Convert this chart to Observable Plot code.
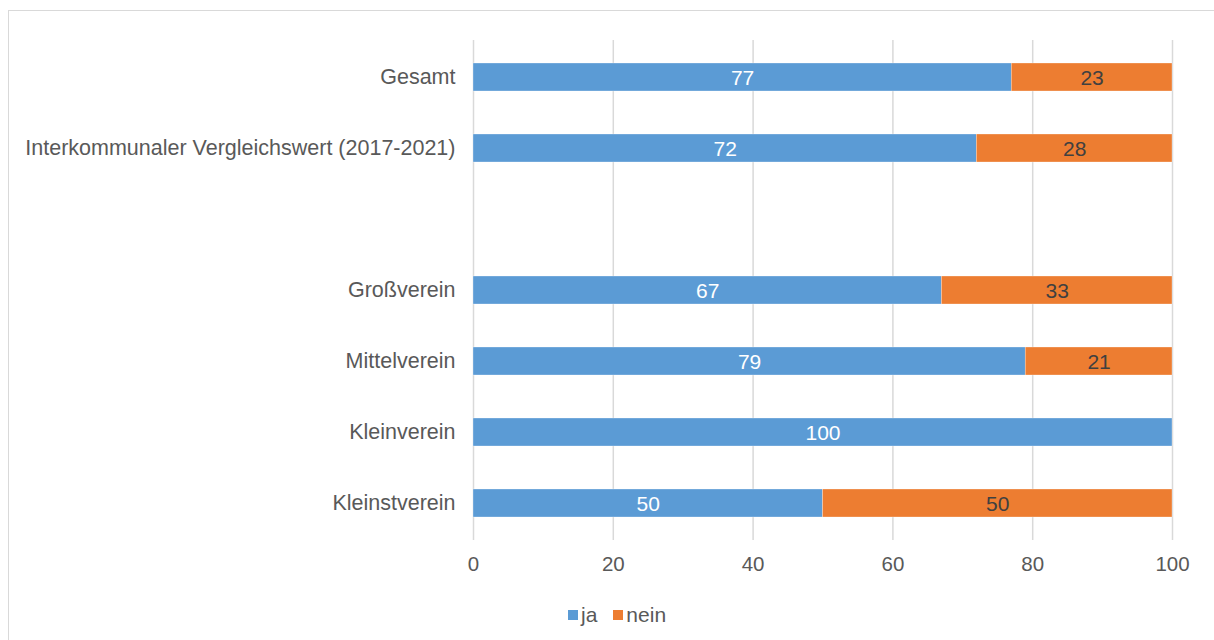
<!DOCTYPE html>
<html>
<head>
<meta charset="utf-8">
<script src="https://cdn.jsdelivr.net/npm/d3@7"></script>
<script src="https://cdn.jsdelivr.net/npm/@observablehq/plot@0.6"></script>
<style>
  html, body { margin: 0; padding: 0; background: #fff; width: 1214px; height: 640px; overflow: hidden; }
  #frame { position: absolute; left: 8px; top: 10px; width: 1220px; height: 640px; border: 1px solid #d9d9d9; box-sizing: border-box; }
  #chart { position: absolute; left: 0; top: 0; }
  #legend { position: absolute; top: 603px; left: 568px; font-family: "Liberation Sans", Arial, sans-serif; font-size: 21px; line-height: 24px; color: #595959; display: flex; align-items: center; }
  #legend .sw { display: inline-block; width: 10px; height: 10px; margin-right: 3px; }
  #legend .item { display: flex; align-items: center; margin-right: 16px; }
</style>
</head>
<body>
<div id="frame"></div>
<div id="chart"></div>
<div id="legend"></div>
<script>
const categories = ["Gesamt", "Interkommunaler Vergleichswert (2017-2021)", " ", "Großverein", "Mittelverein", "Kleinverein", "Kleinstverein"];
const barCategories = ["Gesamt", "Interkommunaler Vergleichswert (2017-2021)", "Großverein", "Mittelverein", "Kleinverein", "Kleinstverein"];
const jaValues = [77, 72, 67, 79, 100, 50];
const neinValues = [23, 28, 33, 21, 0, 50];
const seriesNames = ["ja", "nein"];
const seriesColors = ["#5B9BD5", "#ED7D31"];
const labelColors = ["#ffffff", "#404040"];
const xTicks = [0, 20, 40, 60, 80, 100];

const data = [];
barCategories.forEach((c, i) => {
  data.push({category: c, series: "ja", value: jaValues[i]});
  data.push({category: c, series: "nein", value: neinValues[i]});
});

const font = '"Liberation Sans", Arial, sans-serif';

const chart = Plot.plot({
  width: 1214,
  height: 585,
  marginLeft: 473,
  marginRight: 42,
  marginTop: 40,
  marginBottom: 45,
  style: {fontFamily: font, fontSize: "20px", color: "#595959", background: "transparent"},
  x: {domain: [0, 100], ticks: xTicks, label: null},
  y: {domain: categories, paddingInner: 0.6, paddingOuter: 0.3, label: null},
  color: {domain: seriesNames, range: seriesColors},
  marks: [
    Plot.ruleX(xTicks, {stroke: "#d9d9d9", strokeWidth: 1.5}),
    Plot.barX(data, Plot.stackX({
      y: "category", x: "value", fill: "series", order: seriesNames,
      stroke: "#ffffff", strokeWidth: 0.5, strokeOpacity: 0.6
    })),
    Plot.text(data.filter(d => d.value > 0), Plot.stackX({
      y: "category", x: "value", z: "series", order: seriesNames,
      text: d => String(d.value),
      fill: d => labelColors[seriesNames.indexOf(d.series)],
      fontSize: 21, dy: 1
    })),
    Plot.axisX({ticks: xTicks, tickSize: 0, tickPadding: 16, label: null, fontSize: 20.5, fill: "#595959"}),
    Plot.axisY({tickSize: 0, tickPadding: 18, label: null, fontSize: 21.5, fill: "#595959", tickFormat: d => d})
  ]
});
document.getElementById("chart").appendChild(chart);

const legend = document.getElementById("legend");
seriesNames.forEach((s, i) => {
  const item = document.createElement("span");
  item.className = "item";
  const sw = document.createElement("span");
  sw.className = "sw";
  sw.style.background = seriesColors[i];
  item.appendChild(sw);
  item.appendChild(document.createTextNode(s));
  legend.appendChild(item);
});
</script>
</body>
</html>
